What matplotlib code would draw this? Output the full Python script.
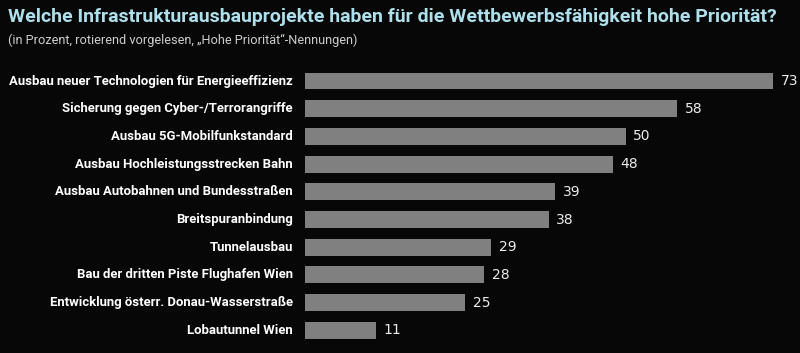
import matplotlib
matplotlib.use("Agg")
from matplotlib import pyplot as plt

# ===================== 数据 =====================
categories = [
    "Ausbau neuer Technologien für Energieeffizienz",
    "Sicherung gegen Cyber-/Terrorangriffe",
    "Ausbau 5G-Mobilfunkstandard",
    "Ausbau Hochleistungsstrecken Bahn",
    "Ausbau Autobahnen und Bundesstraßen",
    "Breitspuranbindung",
    "Tunnelausbau",
    "Bau der dritten Piste Flughafen Wien",
    "Entwicklung österr. Donau-Wasserstraße",
    "Lobautunnel Wien",
]
values = [73, 58, 50, 48, 39, 38, 29, 28, 25, 11]

title = "Welche Infrastrukturausbauprojekte haben für die Wettbewerbsfähigkeit hohe Priorität?"
subtitle = "(in Prozent, rotierend vorgelesen, \u201eHohe Priorität\u201c-Nennungen)"

font = ["Roboto", "DejaVu Sans"]
bg = "#070707"
bar_color = "#808080"

fig = plt.figure(figsize=(8, 3.53), dpi=100, facecolor=bg)
ax = fig.add_axes([305 / 800, 1 - 344.2 / 353, 495 / 800, (344.2 - 67.15) / 353])
ax.set_facecolor(bg)

y = list(range(len(categories)))
ax.barh(y, values, height=0.61, color=bar_color)
ax.set_ylim(len(categories) - 0.5, -0.5)
ax.set_xlim(0, 495 / 6.41)

# 数值标签
for yi, v in zip(y, values):
    ax.text(v + 1.2, yi, str(v), va="center", ha="left", color="#ececec",
            fontsize=10, family="DejaVu Sans")

# 类别标签（右对齐到条形左侧）
labels = []
for yi, c in zip(y, categories):
    t = ax.annotate(c, xy=(0, yi), xycoords=("axes fraction", "data"),
                    xytext=(-12, 0), textcoords="offset pixels",
                    ha="right", va="center", color="white", fontsize=10.5,
                    fontweight="bold", family=font)
    labels.append(t)

ax.set_xticks([])
ax.set_yticks([])
for s in ax.spines.values():
    s.set_visible(False)

t_title = fig.text(8 / 800, 1 - 17 / 353, title, ha="left", va="center", color="#ade0ec",
                   fontsize=13.5, fontweight="bold", family=font)
t_sub = fig.text(8 / 800, 1 - 40 / 353, subtitle, ha="left", va="center", color="#cccccc",
                 fontsize=10, family=font)

# 按参考图宽度缩放字号
fig.canvas.draw()
r = fig.canvas.get_renderer()


def fit(txt, width):
    w = txt.get_window_extent(r).width
    txt.set_fontsize(txt.get_fontsize() * width / w)


fit(t_title, 767)
fit(t_sub, 350)
w0 = labels[0].get_window_extent(r).width
for t in labels:
    t.set_fontsize(t.get_fontsize() * 285 / w0)

fig.savefig("out.png", facecolor=bg)
